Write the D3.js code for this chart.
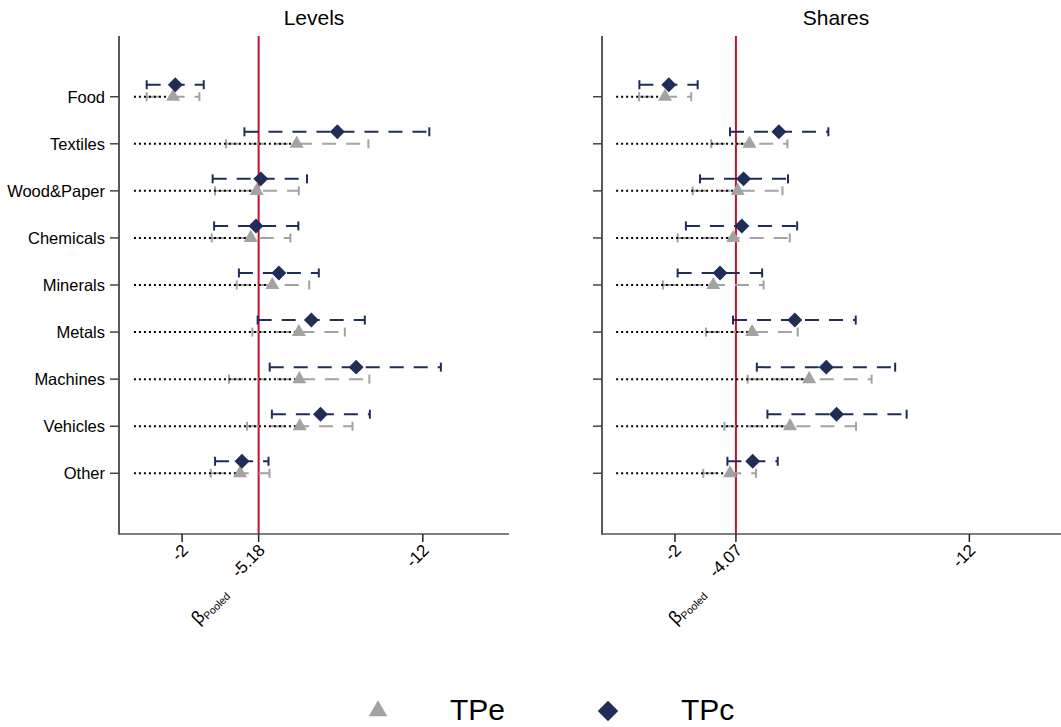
<!DOCTYPE html>
<head>
    <script src="https://d3js.org/d3.v7.min.js" charset="utf-8"></script>
    <style>
        body { margin: 0; background: #fff; }
        text { font-family: Arial, "Liberation Sans", sans-serif; fill: #000; }
    </style>
</head>
<body>
    <div id="container"></div>

    <script>
    // data
    var categories = ["Food", "Textiles", "Wood&Paper", "Chemicals", "Minerals",
                      "Metals", "Machines", "Vehicles", "Other"];

    var levelsTPc   = [-1.72, -8.45, -5.27, -5.07, -6.02, -7.37, -9.23, -7.75, -4.49];
    var levelsTPcCI = [[-0.53, -2.90], [-4.59, -12.27], [-3.27, -7.19], [-3.33, -6.83], [-4.36, -7.68],
                       [-5.14, -9.59], [-5.64, -12.75], [-5.73, -9.80], [-3.37, -5.59]];
    var levelsTPe   = [-1.63, -6.76, -5.10, -4.85, -5.75, -6.85, -6.87, -6.89, -4.41];
    var levelsTPeCI = [[-0.53, -2.72], [-3.83, -9.74], [-3.37, -6.85], [-3.23, -6.50], [-4.27, -7.28],
                       [-4.92, -8.76], [-3.95, -9.78], [-4.70, -9.08], [-3.19, -5.63]];
    var levelsPooled = -5.18;

    var sharesTPc   = [-1.79, -5.53, -4.33, -4.27, -3.53, -6.07, -7.14, -7.49, -4.64];
    var sharesTPcCI = [[-0.79, -2.77], [-3.87, -7.21], [-2.85, -5.84], [-2.37, -6.15], [-2.09, -4.96],
                       [-3.97, -8.14], [-4.78, -9.48], [-5.14, -9.87], [-3.78, -5.49]];
    var sharesTPe   = [-1.66, -4.53, -4.13, -3.98, -3.30, -4.62, -6.56, -5.91, -3.87];
    var sharesTPeCI = [[-0.78, -2.55], [-3.23, -5.82], [-2.60, -5.65], [-2.09, -5.90], [-1.59, -5.01],
                       [-3.05, -6.17], [-4.47, -8.68], [-3.68, -8.15], [-2.96, -4.75]];
    var sharesPooled = -4.07;

    var xTicks = [-2, -12];

    var navy = "#1f2d57", grey = "#a3a3a3", red = "#c8102e";
    var W = 1061, H = 727;
    var plotTop = 36, plotBottom = 534;

    var svg = d3.select("#container").append("svg")
        .attr("width", W).attr("height", H);

    var y = d3.scalePoint().domain(categories).range([plotTop, plotBottom]).padding(1.29);

    var panels = [
        {title: "Levels", left: 119, right: 509, domain: [0.62, -15.58], labels: true,
         tpc: levelsTPc, tpcCI: levelsTPcCI, tpe: levelsTPe, tpeCI: levelsTPeCI, pooled: levelsPooled, pooledLabel: "-5.18"},
        {title: "Shares", left: 602, right: 1070, domain: [0.48, -15.42], labels: false,
         tpc: sharesTPc, tpcCI: sharesTPcCI, tpe: sharesTPe, tpeCI: sharesTPeCI, pooled: sharesPooled, pooledLabel: "-4.07"}
    ];

    var triangle = d3.symbol().type(d3.symbolTriangle).size(85);
    var diamond = d3.symbol().type(d3.symbolSquare).size(112);
    var capH = 4.5;

    panels.forEach(function (p) {
        var x = d3.scaleLinear().domain(p.domain).range([p.left, p.right]);
        var g = svg.append("g");

        g.append("text")
            .attr("x", (p.left + p.right) / 2).attr("y", 25)
            .attr("text-anchor", "middle").style("font-size", "21px")
            .text(p.title);

        // pooled line
        g.append("line")
            .attr("x1", x(p.pooled)).attr("x2", x(p.pooled))
            .attr("y1", plotTop).attr("y2", plotBottom)
            .attr("stroke", red).attr("stroke-width", 2);

        // axes
        g.append("line")
            .attr("x1", p.left).attr("x2", p.left).attr("y1", plotTop).attr("y2", plotBottom + 0.75)
            .attr("stroke", "#222").attr("stroke-width", 1.5);
        g.append("line")
            .attr("x1", p.left).attr("x2", p.right).attr("y1", plotBottom).attr("y2", plotBottom)
            .attr("stroke", "#555").attr("stroke-width", 1.5);

        categories.forEach(function (c) {
            g.append("line")
                .attr("x1", p.left - 9).attr("x2", p.left).attr("y1", y(c)).attr("y2", y(c))
                .attr("stroke", "#444").attr("stroke-width", 1.5);
            if (p.labels) {
                g.append("text")
                    .attr("x", p.left - 14).attr("y", y(c)).attr("dy", "0.36em")
                    .attr("text-anchor", "end").style("font-size", "16.5px")
                    .text(c);
            }
        });

        // x ticks
        var ticks = xTicks.map(function (v) { return {v: v, label: String(v)}; });
        ticks.push({v: p.pooled, label: p.pooledLabel, pooled: true});
        ticks.forEach(function (t) {
            g.append("line")
                .attr("x1", x(t.v)).attr("x2", x(t.v)).attr("y1", plotBottom).attr("y2", plotBottom + 8)
                .attr("stroke", "#222").attr("stroke-width", 1.5);
            var tg = g.append("g")
                .attr("transform", "translate(" + (x(t.v) + 3) + "," + (plotBottom + 13) + ") rotate(-45)");
            tg.append("text")
                .attr("text-anchor", "end").attr("dy", "0.35em")
                .style("font-size", "17px").text(t.label);
            if (t.pooled) {
                var bt = tg.append("text")
                    .attr("x", -57).attr("y", 5).attr("dy", "0.35em")
                    .attr("text-anchor", "end");
                bt.append("tspan").style("font-size", "18px").text("β");
                bt.append("tspan").attr("dy", 3).style("font-size", "10.5px").text("Pooled");
            }
        });

        var off = 12;

        // TPe CI (grey, dashed)
        categories.forEach(function (c, i) {
            var ci = p.tpeCI[i], yy = y(c);
            g.append("line")
                .attr("x1", x(ci[0])).attr("x2", x(ci[1])).attr("y1", yy).attr("y2", yy)
                .attr("stroke", grey).attr("stroke-width", 2).attr("stroke-dasharray", "14,10");
            ci.forEach(function (v) {
                g.append("line")
                    .attr("x1", x(v)).attr("x2", x(v)).attr("y1", yy - capH).attr("y2", yy + capH)
                    .attr("stroke", grey).attr("stroke-width", 2);
            });
        });

        // dotted line from zero to TPe
        categories.forEach(function (c, i) {
            g.append("line")
                .attr("x1", x(0)).attr("x2", x(p.tpe[i])).attr("y1", y(c)).attr("y2", y(c))
                .attr("stroke", "#000").attr("stroke-width", 2).attr("stroke-dasharray", "2,3");
        });

        // TPc CI (navy, dashed)
        categories.forEach(function (c, i) {
            var ci = p.tpcCI[i], yy = y(c) - off;
            g.append("line")
                .attr("x1", x(ci[0])).attr("x2", x(ci[1])).attr("y1", yy).attr("y2", yy)
                .attr("stroke", navy).attr("stroke-width", 2).attr("stroke-dasharray", "14,10");
            ci.forEach(function (v) {
                g.append("line")
                    .attr("x1", x(v)).attr("x2", x(v)).attr("y1", yy - capH).attr("y2", yy + capH)
                    .attr("stroke", navy).attr("stroke-width", 2);
            });
        });

        // markers
        categories.forEach(function (c, i) {
            g.append("path").attr("d", triangle())
                .attr("transform", "translate(" + x(p.tpe[i]) + "," + y(c) + ")")
                .attr("fill", grey);
            g.append("path").attr("d", diamond())
                .attr("transform", "translate(" + x(p.tpc[i]) + "," + (y(c) - off) + ") rotate(45)")
                .attr("fill", navy);
        });
    });

    // legend
    var legend = svg.append("g");
    legend.append("path").attr("d", d3.symbol().type(d3.symbolTriangle).size(150)())
        .attr("transform", "translate(378,711)").attr("fill", grey);
    legend.append("text").attr("x", 450).attr("y", 720).style("font-size", "30px").text("TPe");
    legend.append("path").attr("d", d3.symbol().type(d3.symbolSquare).size(210)())
        .attr("transform", "translate(608,711) rotate(45)").attr("fill", navy);
    legend.append("text").attr("x", 681).attr("y", 720).style("font-size", "30px").text("TPc");
    </script>
</body>
